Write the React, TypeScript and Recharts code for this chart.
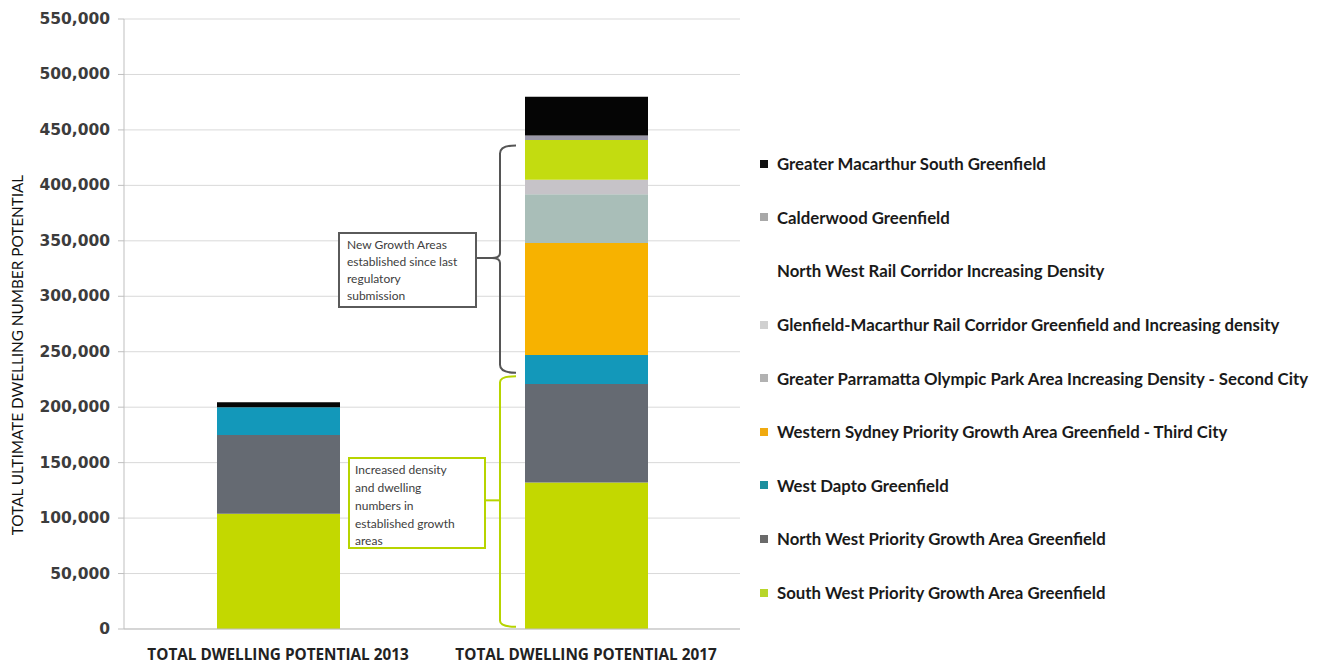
import { BarChart, Bar, XAxis, YAxis, CartesianGrid, Legend } from 'recharts';

const categories = ['TOTAL DWELLING POTENTIAL 2013', 'TOTAL DWELLING POTENTIAL 2017'];

// stack order, bottom to top
const seriesNames = [
  'South West Priority Growth Area Greenfield',
  'North West Priority Growth Area Greenfield',
  'West Dapto Greenfield',
  'Western Sydney Priority Growth Area Greenfield - Third City',
  'Greater Parramatta Olympic Park Area Increasing Density - Second City',
  'Glenfield-Macarthur Rail Corridor Greenfield and Increasing density',
  'North West Rail Corridor Increasing Density',
  'Calderwood Greenfield',
  'Greater Macarthur South Greenfield',
];
const seriesKeys = ['sw', 'nw', 'wd', 'wsp', 'gp', 'glen', 'nwr', 'cald', 'gms'];
const seriesColors = ['#c3d800', '#656a72', '#1398ba', '#f7b200', '#a9beb8', '#c6c3c8', '#c3dc10', '#9a98a8', '#050505'];
const swatchColors = ['#b8d62a', '#6a6a6a', '#1b8f9e', '#f0aa10', '#b2b2b2', '#d0d0d0', '#ffffff', '#a8a8a8', '#111111'];

const southWest = [104000, 132000];
const northWest = [71000, 89000];
const westDapto = [25000, 26000];
const westernSydney = [0, 101000];
const parramatta = [0, 44000];
const glenfield = [0, 13000];
const nwRail = [0, 36000];
const calderwood = [0, 4000];
const macarthurSouth = [4500, 35000];

const seriesValues = [southWest, northWest, westDapto, westernSydney, parramatta, glenfield, nwRail, calderwood, macarthurSouth];
const yTicks = [0, 50000, 100000, 150000, 200000, 250000, 300000, 350000, 400000, 450000, 500000, 550000];

const data = categories.map((cat, i) => {
  const row: Record<string, string | number> = { cat };
  seriesKeys.forEach((k, s) => { row[k] = seriesValues[s][i]; });
  return row;
});

const W = 1322;
const H = 664;
const PLOT_TOP = 19;
const PLOT_BOTTOM = 629;
const Y_MAX = 550000;
const yPx = (v: number) => PLOT_BOTTOM - (PLOT_BOTTOM - PLOT_TOP) * (v / Y_MAX);

const YTick = (props: any) => {
  const { x, y, payload } = props;
  return (
    <text x={x} y={y} dy={5} textAnchor="end" fontFamily="DejaVu Sans" fontWeight={700} fontSize={15.5} fill="#3c3c3c">
      {Number(payload.value).toLocaleString('en-US')}
    </text>
  );
};

const XTick = (props: any) => {
  const { x, y, payload } = props;
  return (
    <text x={x} y={y} dy={17} textAnchor="middle" fontFamily="Open Sans" fontWeight={700} fontSize={15.3} fill="#222">
      {payload.value}
    </text>
  );
};

const LegendBox = (props: any) => {
  const items = [...(props.payload || [])].sort(
    (a: any, b: any) => seriesNames.indexOf(b.value) - seriesNames.indexOf(a.value),
  );
  return (
    <div style={{ fontFamily: 'Lato', fontWeight: 700, fontSize: 16.8, color: '#1a1a1a' }}>
      {items.map((it: any) => {
        const idx = seriesNames.indexOf(it.value);
        return (
          <div key={it.value} style={{ height: 53.6, display: 'flex', alignItems: 'center', whiteSpace: 'nowrap' }}>
            <span style={{ display: 'inline-block', width: 8, height: 8, marginLeft: 5, marginRight: 9, background: swatchColors[idx] }} />
            {it.value}
          </div>
        );
      })}
    </div>
  );
};

const Annotations = () => {
  const b1Top = yPx(436000);
  const b1Bot = yPx(231000);
  const b1Mid = yPx(334500);
  const b2Top = yPx(228000);
  const b2Bot = yPx(2000);
  const b2Mid = yPx(116000);
  const bx = 500;
  return (
    <svg width={W} height={H} style={{ position: 'absolute', left: 0, top: 0, pointerEvents: 'none' }}>
      <path
        d={`M${bx + 16},${b1Top} Q${bx},${b1Top} ${bx},${b1Top + 8} L${bx},${b1Mid - 5} Q${bx},${b1Mid} ${bx - 8},${b1Mid} Q${bx},${b1Mid} ${bx},${b1Mid + 5} L${bx},${b1Bot - 8} Q${bx},${b1Bot} ${bx + 16},${b1Bot}`}
        fill="none" stroke="#555" strokeWidth={2}
      />
      <line x1={476} y1={b1Mid} x2={bx - 8} y2={b1Mid} stroke="#555" strokeWidth={2} />
      <rect x={339} y={233} width={137} height={74} fill="#fff" stroke="#5a5a5a" strokeWidth={2} />
      <text fontFamily="Lato" fontSize={12} fill="#404040">
        <tspan x={347} y={249}>New Growth Areas</tspan>
        <tspan x={347} y={266}>established since last</tspan>
        <tspan x={347} y={283}>regulatory</tspan>
        <tspan x={347} y={300}>submission</tspan>
      </text>

      <path
        d={`M${bx + 16},${b2Top} Q${bx},${b2Top} ${bx},${b2Top + 6} L${bx},${b2Bot - 6} Q${bx},${b2Bot} ${bx + 16},${b2Bot}`}
        fill="none" stroke="#b7d400" strokeWidth={2}
      />
      <line x1={485} y1={b2Mid} x2={bx} y2={b2Mid} stroke="#b7d400" strokeWidth={2} />
      <rect x={349} y={458} width={136} height={90} fill="#fff" stroke="#b7d400" strokeWidth={2} />
      <text fontFamily="Lato" fontSize={12} fill="#404040">
        <tspan x={355} y={474}>Increased density</tspan>
        <tspan x={355} y={492}>and dwelling</tspan>
        <tspan x={355} y={510}>numbers in</tspan>
        <tspan x={355} y={528}>established  growth</tspan>
        <tspan x={355} y={545}>areas</tspan>
      </text>

      <text
        transform={`translate(23, ${355}) rotate(-90)`}
        textAnchor="middle" fontFamily="Lato" fontSize={15.3} fill="#111"
      >
        TOTAL ULTIMATE DWELLING NUMBER POTENTIAL
      </text>
    </svg>
  );
};

export default function App() {
  return (
    <div style={{ position: 'absolute', left: 0, top: 0, width: W, height: H, background: '#fff' }}>
      <BarChart width={W} height={H} data={data} margin={{ top: PLOT_TOP, right: W - 740, bottom: 0, left: 0 }}>
        <CartesianGrid vertical={false} stroke="#d9d9d9" />
        <XAxis
          dataKey="cat"
          height={H - PLOT_BOTTOM}
          tick={<XTick />}
          tickLine={false}
          axisLine={{ stroke: '#bfbfbf' }}
          tickMargin={8}
          interval={0}
        />
        <YAxis
          width={124}
          domain={[0, Y_MAX]}
          ticks={yTicks}
          tick={<YTick />}
          tickSize={6}
          tickMargin={8}
          tickLine={{ stroke: '#bfbfbf' }}
          axisLine={{ stroke: '#bfbfbf' }}
        />
        <Legend
          layout="vertical"
          align="center"
          verticalAlign="middle"
          content={<LegendBox />}
          wrapperStyle={{ left: 755, top: 137, width: 567 }}
        />
        {seriesKeys.map((k, s) => (
          <Bar key={k} dataKey={k} name={seriesNames[s]} stackId="a" fill={seriesColors[s]} barSize={123} isAnimationActive={false} />
        ))}
      </BarChart>
      <Annotations />
    </div>
  );
}
